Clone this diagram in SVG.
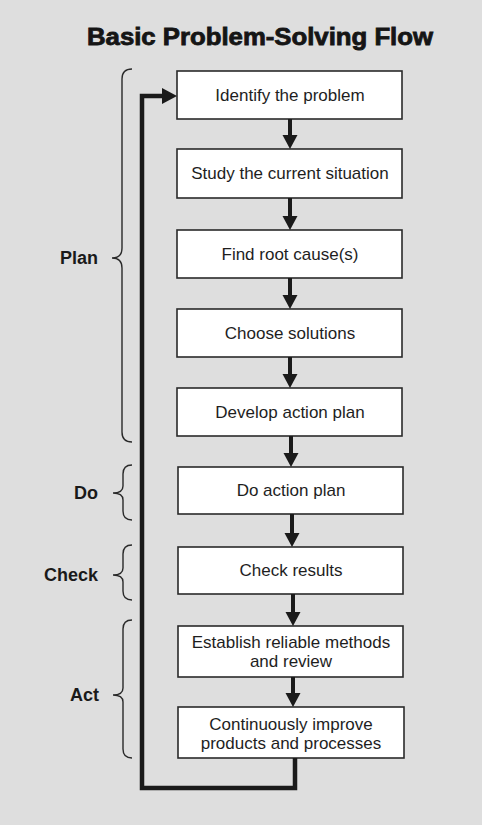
<svg xmlns="http://www.w3.org/2000/svg" width="482" height="825" viewBox="0 0 482 825">
  <defs>
    <style>
      .bg { fill: #dedede; }
      .box { fill: #ffffff; stroke: #2a2a2a; stroke-width: 1.6; }
      .txt { font-family: "Liberation Sans", Arial, sans-serif; font-size: 17px; fill: #1e1e1e; text-anchor: middle; }
      .phase { font-family: "Liberation Sans", Arial, sans-serif; font-size: 18px; font-weight: bold; fill: #1a1a1a; text-anchor: end; }
      .title { font-family: "Liberation Sans", Arial, sans-serif; font-size: 23px; font-weight: bold; fill: #151515; stroke: #151515; stroke-width: 0.8; }
      .brace { fill: none; stroke: #2a2a2a; stroke-width: 1.4; }
      .shaft { stroke: #1a1a1a; stroke-width: 4; fill: none; }
      .head { fill: #1a1a1a; }
      .loop { stroke: #1a1a1a; stroke-width: 4.5; fill: none; stroke-linejoin: miter; }
    </style>
  </defs>

  <rect class="bg" x="0" y="0" width="482" height="825"/>

  <text class="title" x="87" y="45" textLength="346" lengthAdjust="spacingAndGlyphs">Basic Problem-Solving Flow</text>

  <!-- phase braces and labels -->
  <g id="phase-plan">
    <path class="brace" d="M132 69 Q122 69 122 79 L122 248 Q122 258 112 258 Q122 258 122 268 L122 432 Q122 442 132 442"/>
    <text class="phase" x="98" y="264">Plan</text>
  </g>
  <g id="phase-do">
    <path class="brace" d="M132 465 Q123 465 123 474 L123 486 Q123 493 113 493 Q123 493 123 500 L123 511 Q123 520 132 520"/>
    <text class="phase" x="98" y="499">Do</text>
  </g>
  <g id="phase-check">
    <path class="brace" d="M132 545 Q123 545 123 554 L123 568 Q123 575 113 575 Q123 575 123 582 L123 591 Q123 600 132 600"/>
    <text class="phase" x="98" y="581">Check</text>
  </g>
  <g id="phase-act">
    <path class="brace" d="M132 620 Q123 620 123 629 L123 688 Q123 695 113 695 Q123 695 123 702 L123 749 Q123 758 132 758"/>
    <text class="phase" x="99" y="701">Act</text>
  </g>

  <!-- steps -->
  <g id="step-identify">
    <rect class="box" x="177" y="71" width="225" height="48"/>
    <text class="txt" x="290" y="101">Identify the problem</text>
  </g>
  <g id="step-study">
    <rect class="box" x="177" y="149" width="225" height="49"/>
    <text class="txt" x="290" y="179">Study the current situation</text>
  </g>
  <g id="step-root-cause">
    <rect class="box" x="177" y="230" width="225" height="48"/>
    <text class="txt" x="290" y="260">Find root cause(s)</text>
  </g>
  <g id="step-choose">
    <rect class="box" x="177" y="309" width="225" height="48"/>
    <text class="txt" x="290" y="339">Choose solutions</text>
  </g>
  <g id="step-develop">
    <rect class="box" x="177" y="388" width="225" height="48"/>
    <text class="txt" x="290" y="418">Develop action plan</text>
  </g>
  <g id="step-do">
    <rect class="box" x="178" y="467" width="225" height="47"/>
    <text class="txt" x="291" y="496">Do action plan</text>
  </g>
  <g id="step-check">
    <rect class="box" x="178" y="547" width="225" height="47"/>
    <text class="txt" x="291" y="576">Check results</text>
  </g>
  <g id="step-establish">
    <rect class="box" x="178" y="626" width="225" height="51"/>
    <text class="txt" x="291" y="648">Establish reliable methods</text>
    <text class="txt" x="291" y="667">and review</text>
  </g>
  <g id="step-improve">
    <rect class="box" x="178" y="707" width="226" height="51"/>
    <text class="txt" x="291" y="730">Continuously improve</text>
    <text class="txt" x="291" y="749">products and processes</text>
  </g>

  <!-- connectors -->
  <g id="connectors">
    <path class="shaft" d="M290 119 V136"/>
    <polygon class="head" points="282.5,135 297.5,135 290,149"/>
    <path class="shaft" d="M290 198 V217"/>
    <polygon class="head" points="282.5,216 297.5,216 290,230"/>
    <path class="shaft" d="M290 278 V296"/>
    <polygon class="head" points="282.5,295 297.5,295 290,309"/>
    <path class="shaft" d="M290 357 V375"/>
    <polygon class="head" points="282.5,374 297.5,374 290,388"/>
    <path class="shaft" d="M291 436 V454"/>
    <polygon class="head" points="283.5,453 298.5,453 291,467"/>
    <path class="shaft" d="M292 514 V534"/>
    <polygon class="head" points="284.5,533 299.5,533 292,547"/>
    <path class="shaft" d="M293 594 V613"/>
    <polygon class="head" points="285.5,612 300.5,612 293,626"/>
    <path class="shaft" d="M293 677 V694"/>
    <polygon class="head" points="285.5,693 300.5,693 293,707"/>
    <!-- feedback loop back to the first step -->
    <path class="loop" d="M295 758 V788 H142 V96 H164"/>
    <polygon class="head" points="162,88 177,96 162,104"/>
  </g>
</svg>
